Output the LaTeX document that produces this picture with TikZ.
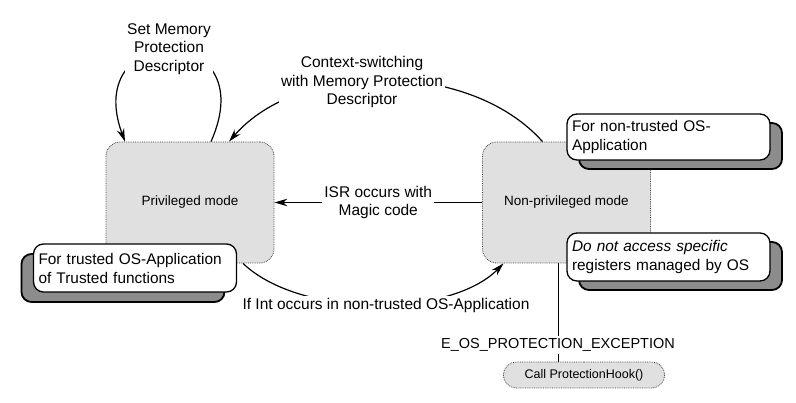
\documentclass[tikz,border=0pt]{standalone}
\usepackage{fontspec}
\setmainfont{Liberation Sans}
\usetikzlibrary{arrows.meta,calc,shadows,shapes.misc}

\begin{document}
\begin{tikzpicture}[x=1pt, y=-1pt, line width=1.2pt, >={Stealth[length=13pt,width=7.5pt]},
    mode node/.style={draw=black!75, densely dotted, line width=0.8pt, fill=black!12, rounded corners=14pt, minimum width=168pt, minimum height=121pt, font=\fontsize{13.5}{16}\selectfont},
    note node/.style={draw, solid, line width=1.3pt, fill=white, rounded corners=10pt, text width=193pt, minimum height=48pt, inner xsep=5pt, align=left, font=\fontsize{15.4}{19}\selectfont},
    shadow right/.style={general shadow={shadow xshift=12pt, shadow yshift=-9pt, fill=black!45, draw=black, line width=1.8pt}},
    shadow left/.style={general shadow={shadow xshift=-12pt, shadow yshift=-10pt, fill=black!45, draw=black, line width=1.8pt}},
    label node/.style={fill=white, inner sep=2pt, align=center, font=\fontsize{15.5}{18.5}\selectfont},
    hook node/.style={rounded rectangle, draw=black!75, densely dotted, line width=0.8pt, fill=black!12, minimum width=168pt, minimum height=26pt, font=\fontsize{12.5}{15}\selectfont}]

    \useasboundingbox (0,0) rectangle (796,403);

    % modes
    \node[mode node] at (190, 202.5) (priv) {Privileged mode};
    \node[mode node] at (566.5, 202.5) (np) {Non-privileged mode};
    \node[hook node] at (584, 375) (hook) {Call ProtectionHook()};

    % transitions
    \draw[->] ($(priv.north)+(21,0)$) .. controls (265,20) and (80,20) .. ($(priv.north)+(-65,0)$);
    \draw[->] ($(np.north)+(-24,0)$) .. controls (470,60) and (300,60) .. ($(priv.north)+(39,0)$);
    \path[->] (np) edge node[label node] {ISR occurs with\\Magic code} (priv);
    \draw[->] ($(priv.south)+(53,0)$) .. controls (300,318) and (450,318) .. ($(np.south)+(-63,0)$);
    \coordinate (exit) at ($(np.south)+(-8,0)$);
    \draw (exit) -- (exit |- hook.north);

    \node[label node] at (169, 49) (setmpd) {Set Memory\\Protection\\Descriptor};
    \node[label node] at (362, 82) (ctxsw) {Context-switching\\with Memory Protection\\Descriptor};
    \node[label node] at (386, 305) (intnt) {If Int occurs in non-trusted OS-Application};
    \node[label node, font=\fontsize{14.5}{17}\selectfont] at (558, 345) (exc) {E\_OS\_PROTECTION\_EXCEPTION};

    % notes
    \node[note node, shadow left] at (135, 268) (trusted) {For trusted OS-Application\\of Trusted functions};
    \node[note node, shadow right, minimum height=46pt] at (668.5, 137) (untrusted) {For non-trusted OS-\\Application};
    \node[note node, shadow right] at (668.5, 257) (regs) {\textit{Do not access specific}\\registers managed by OS};

\end{tikzpicture}
\end{document}
